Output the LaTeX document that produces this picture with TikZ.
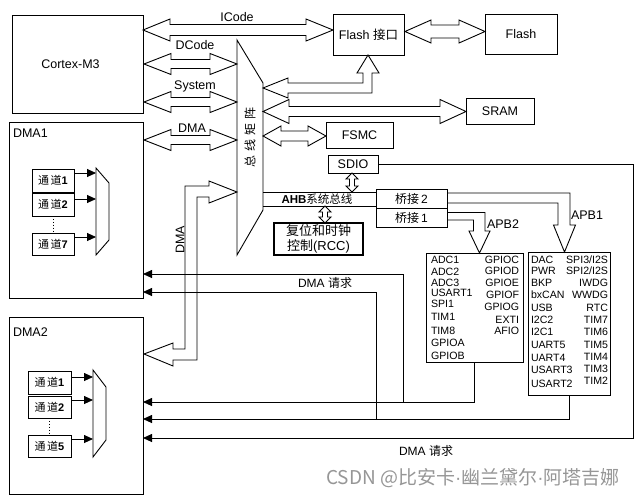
\documentclass[tikz,border=0pt]{standalone}
\usepackage{fontspec}
\setmainfont{Liberation Sans}
\newfontfamily\cjk{Noto Sans CJK SC}
\usetikzlibrary{arrows.meta}
\definecolor{wm}{RGB}{150,150,150}
% horizontal fat double arrow: x1 x2 y shaft-half head-half head-length
\newcommand\hfat[6]{\draw[fatarrow] (#1,#3) -- (#1+#6,#3-#5) -- (#1+#6,#3-#4) -- (#2-#6,#3-#4) -- (#2-#6,#3-#5) -- (#2,#3) -- (#2-#6,#3+#5) -- (#2-#6,#3+#4) -- (#1+#6,#3+#4) -- (#1+#6,#3+#5) -- cycle;}
% vertical fat double arrow: x y1 y2 shaft-half head-half head-length
\newcommand\vfat[6]{\draw[fatarrow] (#1,#2) -- (#1+#5,#2+#6) -- (#1+#4,#2+#6) -- (#1+#4,#3-#6) -- (#1+#5,#3-#6) -- (#1,#3) -- (#1-#5,#3-#6) -- (#1-#4,#3-#6) -- (#1-#4,#2+#6) -- (#1-#5,#2+#6) -- cycle;}
\newcommand\chtxt[1]{{\cjk 通\hspace{1.5pt}道}\textbf{#1}}
\newcommand\mdot{{\rmfamily\fontsize{19}{22}\selectfont ·}}
\begin{document}
\begin{tikzpicture}[x=1pt,y=-1pt,
  every node/.style={inner sep=0pt, outer sep=0pt},
  box/.style={draw, line width=0.9pt, fill=white},
  fatarrow/.style={draw, fill=white, line width=0.9pt, line join=miter},
  thin/.style={line width=0.9pt},
  req/.style={line width=0.9pt, -{Triangle[length=9pt,width=8pt]}},
  lbl/.style={font=\fontsize{12.5}{14}\selectfont},
  chbox/.style={box, minimum width=42, minimum height=23, font=\fontsize{11}{12}\selectfont},
  apbt/.style={font=\fontsize{10.6}{12}\selectfont}]
\useasboundingbox[fill=white] (0,0) rectangle (640,499);

% ---- main boxes
\node[box, minimum width=131, minimum height=98] (cm) at (77.5,64) {};
\node[lbl] (cmt) at (70.5,64) {Cortex-M3};
\node[box, minimum width=134, minimum height=176] (dma1) at (76,210) {};
\node[lbl, anchor=west] (d1t) at (13,133) {DMA1};
\node[box, minimum width=134, minimum height=177] (dma2) at (76,405.5) {};
\node[lbl, anchor=west] (d2t) at (13,332) {DMA2};

\node[box, minimum width=71, minimum height=41, lbl] (flashif) at (368.5,34.5) {Flash {\cjk 接口}};
\node[box, minimum width=72, minimum height=40, lbl] (flash) at (521,34) {Flash};
\node[box, minimum width=68, minimum height=26, lbl] (sram) at (500,111) {SRAM};
\node[box, minimum width=67, minimum height=26, lbl] (fsmc) at (359.5,135) {FSMC};
\node[box, minimum width=50, minimum height=18, lbl] (sdio) at (353,164) {SDIO};
\node[box, line width=1.5pt, minimum width=89, minimum height=32, align=center, font=\fontsize{13}{15}\selectfont] (rcc) at (318.5,239) {{\cjk 复位和时钟}\\{\cjk 控制}(RCC)};
\node[box, minimum width=71, minimum height=19, font=\fontsize{12}{14}\selectfont] (br2) at (411.5,198.5) {{\cjk 桥接}\,2};
\node[box, minimum width=71, minimum height=19, font=\fontsize{12}{14}\selectfont] (br1) at (411.5,217.5) {{\cjk 桥接}\,1};
\node[box, minimum width=97, minimum height=109] (apb2) at (474.5,307.5) {};
\node[box, minimum width=82, minimum height=143] (apb1) at (569,323.5) {};

% ---- bus matrix
\draw[thin, fill=white] (237,40) -- (263,83) -- (263,210) -- (237,255) -- cycle;
\node[font=\fontsize{12}{14}\selectfont, rotate=90] (mtx) at (250,137) {{\cjk 总\hspace{4pt}线\hspace{4pt}矩\hspace{4pt}阵}};

% ---- fat arrows
\hfat{143}{333}{30}{5.5}{11}{27}
\hfat{405}{485}{31.5}{6.5}{11.5}{26}
\hfat{144}{237}{64}{4.5}{10.5}{27}
\hfat{144}{237}{102}{4.5}{10.5}{27}
\hfat{144}{237}{140}{4.5}{10.5}{27}
\hfat{263}{466}{111.5}{5}{12}{26}
\hfat{263}{326}{136}{5}{10}{18}
\draw[fatarrow] (263,88) -- (288,78) -- (288,83) -- (363,83) -- (363,73) -- (357,73) -- (368,55) -- (379,73) -- (372,73) -- (372,93) -- (288,93) -- (288,98) -- cycle;
\draw[fatarrow] (237,192) -- (209,181) -- (209,186) -- (185,186) -- (185,349) -- (173,349) -- (173,343) -- (144,354) -- (173,366) -- (173,360) -- (197,360) -- (197,197) -- (209,197) -- (209,203) -- cycle;
\vfat{352}{173}{192}{2.5}{6}{6}
\vfat{325}{206}{223}{2.5}{6}{6}

\node[lbl] (icl) at (237,17) {ICode};
\node[lbl] (dcl) at (195,45) {DCode};
\node[lbl] (syl) at (195,86) {System};
\node[lbl] (dml) at (192,128) {DMA};
\node[lbl, rotate=90] (dmv) at (180,240) {DMA};

% ---- AHB
\draw[thin] (263,192) -- (br2.west |- 0,192);
\draw[thin] (263,206) -- (br2.west |- 0,206);
\node[font=\fontsize{11.5}{13}\selectfont] (ahb) at (317,199) {\textbf{AHB}{\cjk 系统总线}};

% ---- APB arrows
\draw[thin, line join=miter] (br1.east |- 0,212.5) -- (485,212.5) -- (485,231) -- (490,231) -- (479.5,253) -- (469,231) -- (473.5,231) -- (473.5,220) -- (br1.east |- 0,220);
\draw[thin, line join=miter] (br2.east |- 0,193) -- (570,193) -- (570,225) -- (575.5,225) -- (564.5,252) -- (553.5,225) -- (558,225) -- (558,203) -- (br2.east |- 0,203);
\node[lbl, anchor=west] (apb2l) at (487,224) {APB2};
\node[lbl, anchor=west] (apb1l) at (571,215) {APB1};

% ---- APB contents
\foreach \t/\yy [count=\i] in {ADC1/260,ADC2/271.5,ADC3/282.5,USART1/292.5,SPI1/303.5,TIM1/317,TIM8/331,GPIOA/343,GPIOB/356}
  \node[apbt, anchor=base west] (aa\i) at (431,\yy+3.8) {\t};
\foreach \t/\yy [count=\i] in {GPIOC/260,GPIOD/271,GPIOE/283,GPIOF/295,GPIOG/307,EXTI/320,AFIO/331}
  \node[apbt, anchor=base east] (ab\i) at (519,\yy+3.8) {\t};
\foreach \t/\yy [count=\i] in {DAC/260,PWR/271,BKP/283,bxCAN/295,USB/308,I2C2/320,I2C1/332,UART5/345,UART4/358,USART3/370,USART2/384}
  \node[apbt, anchor=base west] (ac\i) at (531,\yy+3.8) {\t};
\foreach \t/\yy [count=\i] in {{SPI3/I2S}/260,{SPI2/I2S}/271,IWDG/283,WWDG/295,RTC/308,TIM7/320,TIM6/332,TIM5/345,TIM4/357,TIM3/369,TIM2/381}
  \node[apbt, anchor=base east] (ad\i) at (608,\yy+3.8) {\t};

% ---- DMA channels
\node[chbox] (c11) at (53,180.5) {\chtxt{1}};
\node[chbox] (c12) at (53,204.5) {\chtxt{2}};
\node[chbox, minimum height=22] (c17) at (53,244) {\chtxt{7}};
\draw[thin] (96,168) -- (109,183) -- (109,240) -- (96,255) -- cycle;
\draw[req] (c11.east |- 0,173) -- (96,173);
\draw[req] (c12.east |- 0,199) -- (96,199);
\draw[req] (c17.east |- 0,237) -- (96,237);
\draw[thin, dotted] (c12.south) -- (c17.north);

\node[chbox, minimum width=43] (c21) at (49.5,382.5) {\chtxt{1}};
\node[chbox, minimum width=43, minimum height=22] (c22) at (49.5,407) {\chtxt{2}};
\node[chbox, minimum width=43, minimum height=22] (c25) at (49.5,446) {\chtxt{5}};
\draw[thin] (93,370) -- (106,387) -- (106,440) -- (93,457) -- cycle;
\draw[req] (c21.east |- 0,377) -- (93,377);
\draw[req] (c22.east |- 0,400) -- (93,400);
\draw[req] (c25.east |- 0,439) -- (93,439);
\draw[thin, dotted] (c22.south) -- (c25.north);

% ---- DMA requests
\coordinate (j1) at (403,402);
\coordinate (j2) at (376,419);
\coordinate (sd) at (633,438);
\draw[req] (apb2.south) |- (dma2.east |- 0,402);
\draw[req] (j1) |- (dma1.east |- 0,274);
\draw[req] (apb1.south) |- (dma2.east |- 0,419);
\draw[req] (j2) |- (dma1.east |- 0,292);
\draw[req] (sdio.east) -| (sd) -- (dma2.east |- 0,438);
\node[font=\fontsize{12}{14}\selectfont] (rq1) at (325,283) {DMA {\cjk 请求}};
\node[font=\fontsize{12}{14}\selectfont] (rq2) at (426,451) {DMA {\cjk 请求}};

% ---- watermark
\node[font=\fontsize{19}{22}\selectfont\cjk, text=wm] (wmk) at (473,478) {CSDN @比安卡\mdot 幽兰黛尔\mdot 阿塔吉娜};
\end{tikzpicture}
\end{document}
